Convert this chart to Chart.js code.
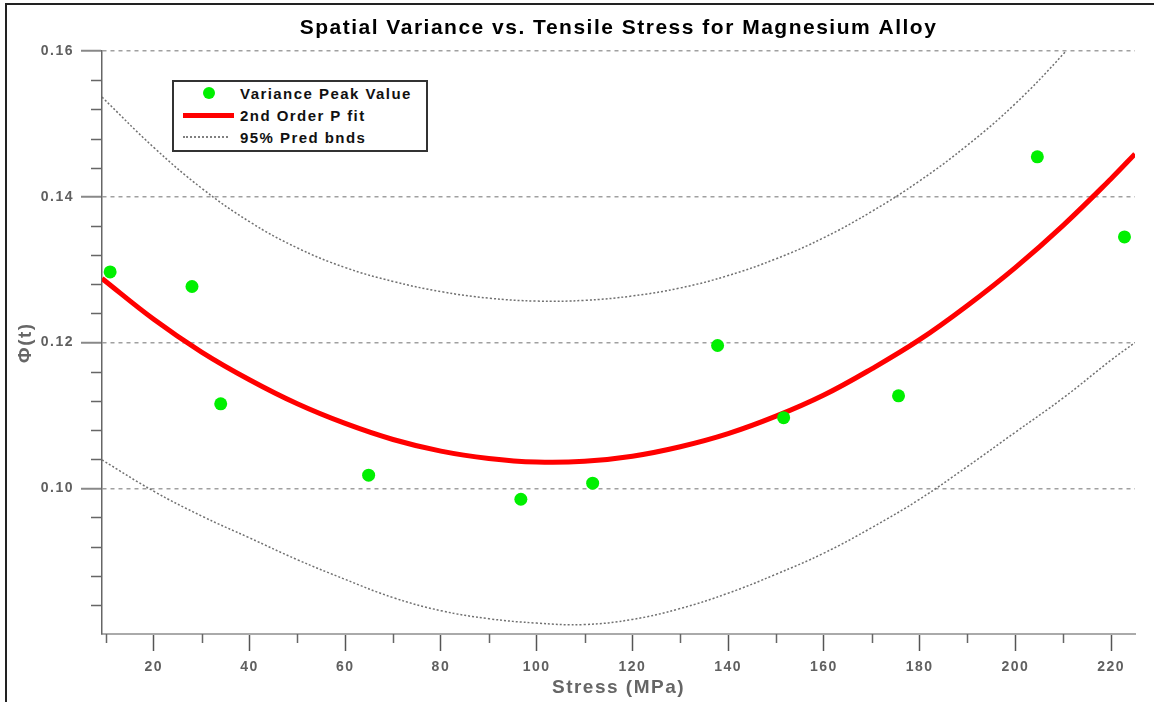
<!DOCTYPE html>
<html>
<head>
<meta charset="utf-8">
<script src="https://cdn.jsdelivr.net/npm/chart.js@4.4.0/dist/chart.umd.min.js"></script>
<style>
  html, body { margin: 0; padding: 0; background: #fff; }
  #wrap { position: relative; width: 1154px; height: 702px; overflow: hidden; }
  #frame {
    position: absolute; left: 5px; top: 3px; right: -10px; bottom: -10px;
    border-left: 2px solid #222; border-top: 2px solid #222; pointer-events: none;
  }
  #legend {
    position: absolute; left: 172px; top: 80px; width: 252px; height: 68px;
    border: 2px solid #333; background: #fff;
    font: bold 15px "Liberation Sans", Arial, sans-serif; letter-spacing: 1.45px; color: #111;
  }
  .row { height: 22px; display: flex; align-items: center; }
  .sym { width: 51px; margin-left: 9px; margin-right: 6px; display: flex; justify-content: center; align-items: center; }
  .dot { width: 12px; height: 12px; border-radius: 50%; background: #00f000; }
  .red { width: 51px; height: 5px; background: #ff0000; }
  .dots { width: 45px; height: 0; border-top: 2px dotted #808080; margin-right: 6px; }
</style>
</head>
<body>
<div id="wrap">
  <canvas id="chart" width="1154" height="702"></canvas>
  <div id="frame"></div>
  <div id="legend">
    <div class="row"><span class="sym"><span class="dot"></span></span>Variance Peak Value</div>
    <div class="row"><span class="sym"><span class="red"></span></span>2nd Order P fit</div>
    <div class="row"><span class="sym"><span class="dots"></span></span>95% Pred bnds</div>
  </div>
</div>
<script>
// measured points
const stress = [10.9, 28.0, 34.0, 64.9, 96.7, 111.7, 137.8, 151.6, 175.6, 204.6, 222.8];
const peakVar = [0.1297, 0.1277, 0.1116, 0.1018, 0.0985, 0.1007, 0.1196, 0.1097, 0.1127, 0.1455, 0.1345];

// fit + prediction bounds
const curveStress = [9.2, 20, 30, 40, 50, 60, 70, 80, 90, 100, 110, 120, 130, 140, 150, 160, 170, 180, 190, 200, 210, 220, 225];
const fitVals = [0.1288, 0.1232, 0.1187, 0.1149, 0.1116, 0.1089, 0.1067, 0.1051, 0.1041, 0.1036, 0.1037, 0.1044,
  0.1057, 0.1075, 0.1099, 0.1128, 0.1164, 0.1204, 0.1251, 0.1303, 0.1361, 0.1425, 0.1459];
const upperVals = [0.1537, 0.1468, 0.1412, 0.1366, 0.1330, 0.1303, 0.1284, 0.1270, 0.1261, 0.1257, 0.1258, 0.1264,
  0.1275, 0.1292, 0.1315, 0.1344, 0.1380, 0.1422, 0.1471, 0.1528, 0.1596, 0.1672, 0.1715];
const lowerVals = [0.1039, 0.0996, 0.0962, 0.0932, 0.0902, 0.0875, 0.0850, 0.0832, 0.0821, 0.0815, 0.0813, 0.0820,
  0.0835, 0.0856, 0.0882, 0.0911, 0.0946, 0.0985, 0.1030, 0.1077, 0.1124, 0.1176, 0.1200];

const yLabels = [0.10, 0.12, 0.14, 0.16];
const xLabels = [20, 40, 60, 80, 100, 120, 140, 160, 180, 200, 220];

const FONT = '"Liberation Sans", Arial, sans-serif';
Chart.defaults.font.family = FONT;

const isMajorY = v => yLabels.some(l => Math.abs(l - v) < 1e-6);
const isMajorX = v => xLabels.includes(Math.round(v));

const toXY = (xs, ys) => xs.map((x, i) => ({ x: x, y: ys[i] }));

const spacing = {
    id: 'spacing',
    beforeDraw(chart) { chart.ctx.letterSpacing = '1.5px'; }
};

const minorTicks = {
    id: 'minorTicks',
    afterDraw(chart) {
        const { ctx, scales: { x, y } } = chart;
        ctx.save();
        ctx.lineWidth = 1.5;
        ctx.strokeStyle = '#666';
        ctx.beginPath();
        x.ticks.forEach(t => {
            if (isMajorX(t.value)) return;
            const px = Math.round(x.getPixelForValue(t.value)) + 0.5;
            ctx.moveTo(px, x.top);
            ctx.lineTo(px, x.top + 9);
        });
        y.ticks.forEach(t => {
            if (isMajorY(t.value) || t.value < 0.0805) return;
            const py = Math.round(y.getPixelForValue(t.value)) + 0.5;
            ctx.moveTo(y.right - 11, py);
            ctx.lineTo(y.right, py);
        });
        ctx.stroke();
        ctx.restore();
    }
};

const boundStyle = {
    showLine: true,
    borderColor: '#707070',
    borderWidth: 1.5,
    borderDash: [2, 2],
    pointRadius: 0,
    tension: 0.4,
    order: 2
};

new Chart(document.getElementById('chart'), {
    type: 'scatter',
    data: {
        datasets: [
            {
                label: 'Variance Peak Value',
                data: toXY(stress, peakVar),
                pointRadius: 6.5,
                pointBackgroundColor: '#00f000',
                pointBorderWidth: 0,
                order: 0
            },
            {
                label: '2nd Order P fit',
                data: toXY(curveStress, fitVals),
                showLine: true,
                borderColor: '#ff0000',
                borderWidth: 5,
                pointRadius: 0,
                tension: 0.4,
                order: 1
            },
            { label: '95% Pred bnds', data: toXY(curveStress, upperVals), ...boundStyle },
            { label: '95% Pred bnds (lower)', data: toXY(curveStress, lowerVals), ...boundStyle }
        ]
    },
    options: {
        responsive: false,
        animation: false,
        layout: { padding: { left: 0, right: 19, top: 0, bottom: 0 } },
        plugins: {
            legend: { display: false },
            tooltip: { enabled: false },
            title: {
                display: true,
                fullSize: false,
                text: 'Spatial Variance vs. Tensile Stress for Magnesium Alloy',
                color: '#000',
                font: { size: 21, weight: 'bold' },
                padding: { top: 16, bottom: 10 }
            }
        },
        scales: {
            x: {
                type: 'linear',
                min: 9.2,
                max: 225,
                afterFit: s => { s.height = 68; },
                ticks: {
                    stepSize: 10,
                    includeBounds: false,
                    autoSkip: false,
                    maxRotation: 0,
                    padding: 8,
                    color: '#606060',
                    font: { size: 14, weight: 'bold' },
                    callback: v => isMajorX(v) ? String(Math.round(v)) : ''
                },
                grid: {
                    drawOnChartArea: false,
                    tickLength: 17,
                    tickWidth: 1.5,
                    tickColor: c => isMajorX(c.tick.value) ? '#555' : 'transparent'
                },
                border: { color: '#aaa', width: 2 },
                title: {
                    display: true,
                    text: 'Stress (MPa)',
                    color: '#666',
                    font: { size: 19, weight: 'bold' },
                    padding: { top: 0, bottom: 3 }
                }
            },
            y: {
                min: 0.08,
                max: 0.16,
                afterFit: s => { s.width = 102; },
                ticks: {
                    stepSize: 0.004,
                    autoSkip: false,
                    padding: 7,
                    color: '#606060',
                    font: { size: 14, weight: 'bold' },
                    callback: v => isMajorY(v) ? v.toFixed(2) : ''
                },
                grid: {
                    color: c => (isMajorY(c.tick.value) ? '#a0a0a0' : 'transparent'),
                    lineWidth: 1.5,
                    tickLength: 21,
                    tickWidth: 2,
                    tickColor: c => isMajorY(c.tick.value) ? '#888' : 'transparent'
                },
                border: { color: '#666', width: 1.5, dash: [4, 4] },
                title: {
                    display: true,
                    text: 'Φ(t)',
                    color: '#666',
                    font: { size: 19, weight: 'bold' },
                    padding: { top: 14, bottom: 0 }
                }
            }
        }
    },
    plugins: [spacing, minorTicks]
});
</script>
</body>
</html>
